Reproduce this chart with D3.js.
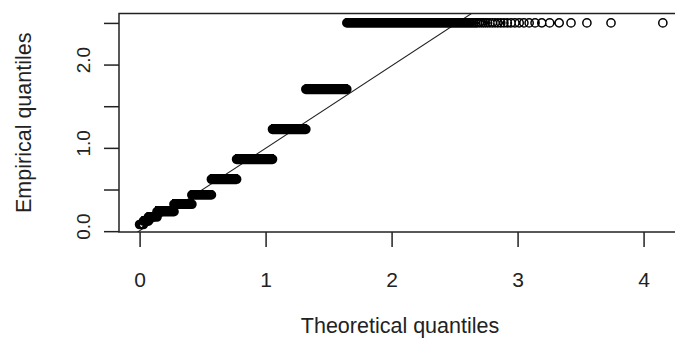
<!DOCTYPE html>
<html>
<head>
<meta charset="utf-8">
<script src="https://cdn.jsdelivr.net/npm/d3@7"></script>
<style>
  html, body { margin: 0; padding: 0; background: #fff; }
  svg { display: block; }
  text { font-family: "Liberation Sans", Arial, sans-serif; fill: #222; }
</style>
</head>
<body>
<svg id="chart" width="675" height="338"></svg>
<script>
// Observed sample: distinct values and how many observations take each value
const sampleLevels = [0.08, 0.12, 0.17, 0.234, 0.323, 0.435, 0.623, 0.863, 1.223, 1.703, 2.5];
const sampleCounts = [2518, 3057, 4503, 6847, 4977, 3659, 2953, 2230, 991, 560, 405];

// Exponential reference distribution for the theoretical quantiles
const expRate = 2.67;

// Reference line: empirical = refIntercept + refSlope * theoretical
const refIntercept = 0.005;
const refSlope = 0.99;

// Axes
const xTicks = [0, 1, 2, 3, 4];
const xTickLabels = ["0", "1", "2", "3", "4"];
const yTicks = [0, 0.5, 1, 1.5, 2, 2.5];
const yTickLabels = ["0.0", "", "1.0", "", "2.0", ""];
const xTitle = "Theoretical quantiles";
const yTitle = "Empirical quantiles";

// ---- layout ----
const plot = { left: 119, right: 681, top: 13.5, bottom: 232 };
const ink = "#222";

const svg = d3.select("#chart");

const x = d3.scaleLinear().domain([-0.1635, 4.297]).range([plot.left, plot.right]);
const y = d3.scaleLinear().domain([-0.01, 2.613]).range([plot.bottom, plot.top]);

// Sorted sample and exponential plotting positions (i - 0.5) / n
const sample = [];
sampleLevels.forEach((v, k) => { for (let j = 0; j < sampleCounts[k]; j++) sample.push(v); });
const n = sample.length;
const points = sample.map((v, i) => ({
  t: -Math.log(1 - (i + 0.5) / n) / expRate,
  v: v
}));

svg.append("defs").append("clipPath").attr("id", "plot-clip")
  .append("rect")
  .attr("x", plot.left).attr("y", plot.top)
  .attr("width", plot.right - plot.left).attr("height", plot.bottom - plot.top);

const body = svg.append("g").attr("clip-path", "url(#plot-clip)");

// Reference line across the plot region
const [t0, t1] = x.domain();
body.append("line")
  .attr("x1", x(t0)).attr("y1", y(refIntercept + refSlope * t0))
  .attr("x2", x(t1)).attr("y2", y(refIntercept + refSlope * t1))
  .attr("stroke", "#222")
  .attr("stroke-width", 1.1);

// Open circles for each (theoretical, empirical) pair
const r = 4.1;
const circlePath = d3.path();
points.forEach(p => {
  const cx = x(p.t), cy = y(p.v);
  circlePath.moveTo(cx + r, cy);
  circlePath.arc(cx, cy, r, 0, 2 * Math.PI);
});
body.append("path")
  .attr("d", circlePath.toString())
  .attr("fill", "none")
  .attr("stroke", "#000")
  .attr("stroke-width", 1.5);

// Frame
svg.append("rect")
  .attr("x", plot.left).attr("y", plot.top)
  .attr("width", plot.right - plot.left).attr("height", plot.bottom - plot.top)
  .attr("fill", "none").attr("stroke", ink).attr("stroke-width", 1.5);

// X axis
const xAxis = svg.append("g")
  .attr("transform", `translate(0,${plot.bottom})`)
  .call(d3.axisBottom(x).tickValues(xTicks)
    .tickFormat((d, i) => xTickLabels[i]).tickSize(15).tickSizeOuter(0));
xAxis.select(".domain").remove();
xAxis.selectAll(".tick line").attr("stroke", ink).attr("stroke-width", 1.5);
xAxis.selectAll(".tick text")
  .attr("y", 55).attr("dy", 0)
  .style("font-size", "21px").attr("fill", ink);

// Y axis
const yAxis = svg.append("g")
  .attr("transform", `translate(${plot.left},0)`)
  .call(d3.axisLeft(y).tickValues(yTicks)
    .tickFormat((d, i) => yTickLabels[i]).tickSize(15).tickSizeOuter(0));
yAxis.select(".domain").remove();
yAxis.selectAll(".tick line").attr("stroke", ink).attr("stroke-width", 1.5);
yAxis.selectAll(".tick text")
  .attr("x", 0).attr("y", 0).attr("dy", 0)
  .attr("text-anchor", "middle")
  .attr("transform", "translate(-29,-5) rotate(-90)")
  .style("font-size", "19px").attr("fill", ink);

// Axis titles
svg.append("text")
  .attr("x", (plot.left + plot.right) / 2).attr("y", 333)
  .attr("text-anchor", "middle")
  .style("font-size", "21.5px")
  .text(xTitle);

svg.append("text")
  .attr("transform", `translate(31,${(plot.top + plot.bottom) / 2}) rotate(-90)`)
  .attr("text-anchor", "middle")
  .style("font-size", "21.5px")
  .text(yTitle);
</script>
</body>
</html>
